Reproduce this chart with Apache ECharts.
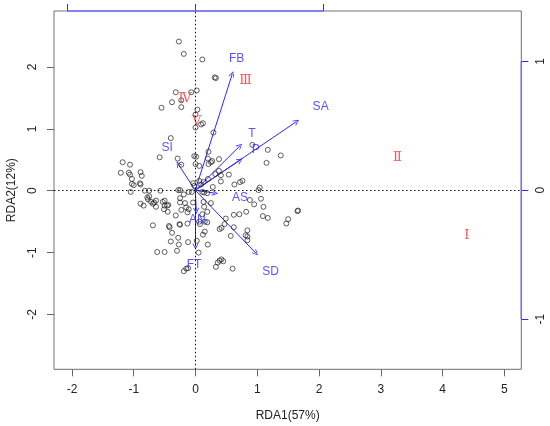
<!DOCTYPE html>
<html>
<head>
<meta charset="utf-8">
<script src="https://cdn.jsdelivr.net/npm/echarts@6/dist/echarts.min.js"></script>
<style>
  html, body { margin: 0; padding: 0; background: #fff; }
  #main { width: 550px; height: 426px; }
</style>
</head>
<body>
<div id="main"></div>
<script>
// site scores (RDA1, RDA2)
var siteX = [-0.27,-0.19,0.11,0.31,0.33,-0.32,-0.07,0.02,-0.38,-0.23,-0.23,-0.55,0.03,0.00,0.09,0.12,0.00,0.29,-0.40,-0.58,
  -0.29,-0.23,-0.02,0.01,0.06,0.21,0.20,0.25,0.21,0.27,0.38,0.32,0.41,0.54,0.41,0.20,0.92,1.17,1.15,1.38,
  0.63,0.72,0.76,1.04,1.02,0.28,0.06,0.13,0.09,-0.04,-0.02,-0.06,0.11,0.14,0.19,0.88,1.06,0.95,0.25,0.00,
  -1.18,-1.06,-1.21,-1.08,-1.06,-0.89,-0.87,-1.03,-0.90,-0.89,-1.00,-1.03,-0.82,-0.75,-0.57,-1.05,-0.28,-0.25,-0.11,-0.19,
  -0.89,-0.72,-0.64,-0.67,-0.53,-0.50,-0.25,-0.75,-0.78,-0.77,-0.04,-0.84,-0.69,-0.64,-0.50,-0.46,-0.44,-0.51,-0.45,-0.17,
  -0.15,-0.11,-0.13,-0.32,-0.69,-0.43,-0.42,-0.26,-0.25,-0.13,-0.38,-0.28,-0.40,-0.27,-0.12,-0.62,-0.50,-0.30,0.05,-0.19,
  -0.15,-0.12,0.13,0.14,1.10,0.62,0.71,0.82,1.09,1.17,1.65,1.66,1.50,1.47,0.11,0.06,0.07,0.15,0.19,0.49,
  0.47,0.42,0.39,0.62,0.15,0.12,0.57,0.84,0.81,0.84,0.84,0.02,0.20,0.42,0.39,0.45,0.36,0.33,0.60,0.38,
  -0.25,-0.23,0.19];
var siteY = [2.41,2.21,2.12,1.83,1.82,1.59,1.59,1.62,1.43,1.46,1.35,1.34,1.31,1.23,1.07,1.09,1.02,0.94,0.85,0.54,
  0.52,0.42,0.56,0.55,0.40,0.63,0.52,0.46,0.43,0.48,0.51,0.27,0.25,0.26,0.15,0.19,0.74,0.66,0.45,0.57,
  0.10,0.14,0.16,0.05,0.01,0.06,0.16,0.14,0.10,0.12,0.08,-0.02,-0.02,-0.03,-0.04,-0.15,-0.13,-0.22,-0.20,0.43,
  0.46,0.42,0.29,0.29,0.26,0.30,0.24,0.19,0.12,0.10,0.09,0.11,0.00,0.00,0.00,-0.02,0.01,0.01,-0.02,-0.06,
  -0.21,-0.18,-0.16,-0.19,-0.18,-0.16,-0.19,-0.09,-0.11,-0.14,-0.19,-0.24,-0.21,-0.26,-0.24,-0.24,-0.23,-0.30,-0.34,-0.20,
  -0.27,-0.30,-0.35,-0.40,-0.56,-0.57,-0.59,-0.54,-0.55,-0.53,-0.68,-0.76,-0.82,-0.87,-0.83,-0.99,-0.99,-0.97,-1.00,-1.30,
  -1.26,-1.25,-0.18,-0.26,-0.26,-0.39,-0.38,-0.34,-0.41,-0.44,-0.33,-0.32,-0.46,-0.53,-0.38,-0.50,-0.54,-0.50,-0.51,-0.45,
  -0.54,-0.60,-0.62,-0.59,-0.66,-0.71,-0.73,-0.64,-0.72,-0.74,-0.80,-0.81,-0.87,-1.11,-1.13,-1.14,-1.16,-1.23,-1.26,0.32,
  -0.12,-0.31,-0.34];

// environmental variables (biplot arrows, right/top scale)
var envNames = ['FB', 'SA', 'T', 'P', 'SI', 'AS', 'AN', 'FT', 'SD'];
var envX = [0.288, 0.790, 0.348, 0.348, -0.133, 0.153, 0.008, 0.002, 0.472];
var envY = [0.902, 0.534, 0.345, 0.233, 0.203, -0.022, -0.160, -0.436, -0.488];
var envLabelX = [0.322, 0.977, 0.441, 0.472, -0.219, 0.348, 0.016, -0.009, 0.587];
var envLabelY = [1.021, 0.646, 0.436, 0.314, 0.332, -0.061, -0.229, -0.578, -0.630];

// group labels (site scale)
var groupNames = ['Ⅰ', 'Ⅱ', 'Ⅲ', 'Ⅳ', 'Ⅴ'];
var groupX = [4.39, 3.27, 0.81, -0.17, 0.02];
var groupY = [-0.73, 0.54, 1.78, 1.49, 1.11];

// ticks
var xTicks = [-2, -1, 0, 1, 2, 3, 4, 5];
var yTicks = [-2, -1, 0, 1, 2];
var arrowTicks = [-1, 0, 1];

var siteRange = { xmin: -2.291, xmax: 5.274, ymin: -2.885, ymax: 2.903 };
var arrowRange = { xmin: -1.101, xmax: 2.541, ymin: -1.390, ymax: 1.392 };

var BLUE = '#2a2aff';
var FONT = 'Liberation Sans, Arial, sans-serif';
// open "V" arrow head like R's arrows()
var ARROW_HEAD = 'path://M0,10 L5,0 L10,10 L8.6,10 L5,2.6 L1.4,10 Z';

var chart = echarts.init(document.getElementById('main'), null, { renderer: 'canvas' });

var sites = siteX.map(function (x, i) { return [x, siteY[i]]; });
var arrows = envNames.map(function (n, i) {
  return { coords: [[0, 0], [envX[i], envY[i]]] };
});
var envLabels = envNames.map(function (n, i) {
  return { name: n, value: [envLabelX[i], envLabelY[i]] };
});
var groups = groupNames.map(function (n, i) {
  return { name: n, value: [groupX[i], groupY[i]] };
});

chart.setOption({
  animation: false,
  backgroundColor: '#fff',
  grid: {
    left: 54, right: 28.7, top: 11, bottom: 56.7,
    show: true, borderColor: '#707070', borderWidth: 1,
    outerBoundsMode: 'none'
  },
  xAxis: [{
    type: 'value', min: siteRange.xmin, max: siteRange.xmax, position: 'bottom',
    splitLine: { show: false },
    axisLine: { show: false, onZero: false },
    axisTick: { show: true, customValues: xTicks, length: 7, lineStyle: { color: '#666' } },
    axisLabel: { customValues: xTicks, margin: 14, fontSize: 12, color: '#222', fontFamily: FONT },
    name: 'RDA1(57%)', nameLocation: 'middle', nameGap: 40,
    nameTextStyle: { fontSize: 12, color: '#222', fontFamily: FONT }
  }, {
    type: 'value', min: arrowRange.xmin, max: arrowRange.xmax, position: 'top',
    splitLine: { show: false },
    axisLine: { show: false, onZero: false },
    axisTick: { show: true, customValues: arrowTicks, length: 7, lineStyle: { color: BLUE } },
    axisLabel: { show: false }
  }],
  yAxis: [{
    type: 'value', min: siteRange.ymin, max: siteRange.ymax, position: 'left',
    splitLine: { show: false },
    axisLine: { show: false, onZero: false },
    axisTick: { show: true, customValues: yTicks, length: 7, lineStyle: { color: '#666' } },
    axisLabel: { customValues: yTicks, rotate: 90, margin: 15, fontSize: 12, color: '#222', fontFamily: FONT },
    name: 'RDA2(12%)', nameLocation: 'middle', nameGap: 36, nameRotate: 90,
    nameTextStyle: { fontSize: 12, color: '#222', fontFamily: FONT }
  }, {
    type: 'value', min: arrowRange.ymin, max: arrowRange.ymax, position: 'right',
    splitLine: { show: false },
    axisLine: { show: false, onZero: false },
    axisTick: { show: true, customValues: arrowTicks, length: 7, lineStyle: { color: BLUE } },
    axisLabel: { customValues: arrowTicks, rotate: 90, margin: 13, fontSize: 12, color: '#222', fontFamily: FONT }
  }],
  series: [{
    // sites
    type: 'scatter', xAxisIndex: 0, yAxisIndex: 0,
    data: sites, symbol: 'circle', symbolSize: 5,
    itemStyle: { color: 'rgba(255,255,255,0)', borderColor: '#222', borderWidth: 0.9 },
    markLine: {
      silent: true, symbol: 'none', animation: false,
      label: { show: false },
      lineStyle: { type: [1.5, 2.5], color: '#111', width: 1 },
      data: [{ xAxis: 0 }, { yAxis: 0 }]
    }
  }, {
    // blue scale lines on top and right edges
    type: 'line', xAxisIndex: 1, yAxisIndex: 1, clip: false, symbol: 'none',
    lineStyle: { color: '#7070ff', width: 1.5 },
    data: [[arrowTicks[0], arrowRange.ymax], [arrowTicks[2], arrowRange.ymax]]
  }, {
    type: 'line', xAxisIndex: 1, yAxisIndex: 1, clip: false, symbol: 'none',
    lineStyle: { color: '#7070ff', width: 1.5 },
    data: [[arrowRange.xmax, arrowTicks[0]], [arrowRange.xmax, arrowTicks[2]]]
  }, {
    // biplot arrows
    type: 'lines', coordinateSystem: 'cartesian2d', xAxisIndex: 1, yAxisIndex: 1,
    data: arrows, symbol: ['none', ARROW_HEAD], symbolSize: [7, 6],
    lineStyle: { color: BLUE, width: 1, opacity: 1 }
  }, {
    type: 'scatter', xAxisIndex: 1, yAxisIndex: 1,
    data: envLabels, symbolSize: 1,
    itemStyle: { color: 'rgba(0,0,0,0)' },
    label: { show: true, position: 'inside', formatter: '{b}', color: BLUE, fontSize: 12, fontFamily: FONT }
  }, {
    type: 'scatter', xAxisIndex: 0, yAxisIndex: 0,
    data: groups, symbolSize: 1,
    itemStyle: { color: 'rgba(0,0,0,0)' },
    label: { show: true, position: 'inside', formatter: '{b}', color: '#ff2a2a', fontSize: 13, fontFamily: 'DejaVu Serif, serif' }
  }]
});
</script>
</body>
</html>
